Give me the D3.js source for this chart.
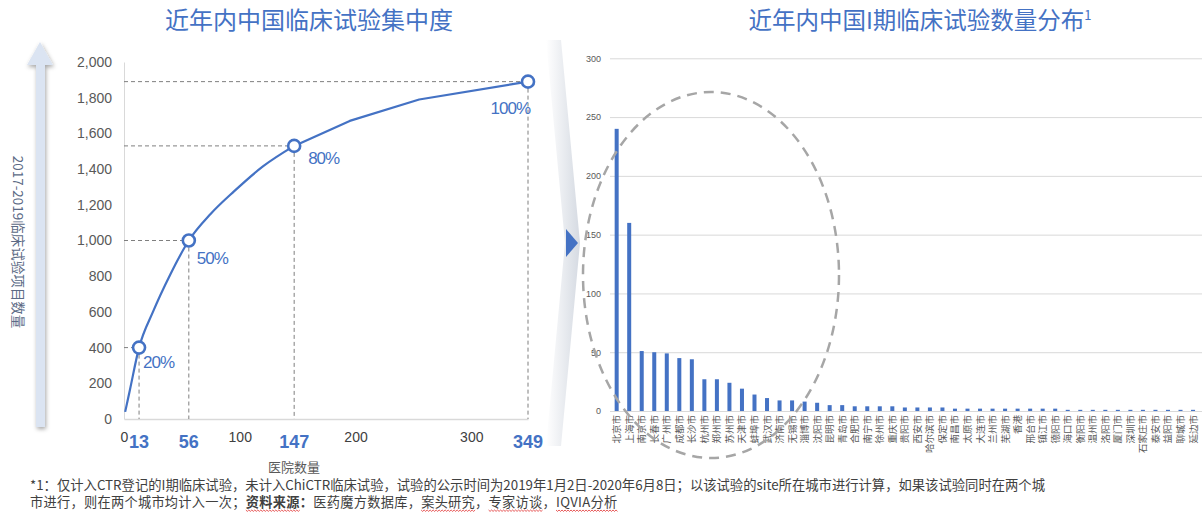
<!DOCTYPE html>
<html>
<head>
<meta charset="utf-8">
<script src="https://cdn.jsdelivr.net/npm/d3@7"></script>
<style>
  body { margin: 0; background: #fff; }
  svg { display: block; }
  text { font-family: "Liberation Sans", Arial, sans-serif; }
  .cjk { font-family: "Noto Sans CJK SC", sans-serif; }
</style>
</head>
<body>
<div id="chart"></div>
<script>
// ---- data: cumulative curve (left) ----
var hospitalCount = [1, 5, 13, 25, 40, 56, 75, 95, 120, 147, 195, 255, 349];
var trialCount    = [40, 160, 400, 600, 810, 1000, 1150, 1275, 1415, 1530, 1670, 1790, 1890];

var keyHospitals = [13, 56, 147, 349];
var keyTrials    = [400, 1000, 1530, 1890];
var keyShares    = ["20%", "50%", "80%", "100%"];

var leftYTicks = [0, 200, 400, 600, 800, 1000, 1200, 1400, 1600, 1800, 2000];
var leftXTicks = [0, 100, 200, 300];

// ---- data: phase I trials by city (right) ----
var cities = ["北京市", "上海市", "南京市", "长春市", "广州市", "成都市", "长沙市", "杭州市", "郑州市", "苏州市",
              "天津市", "蚌埠市", "武汉市", "济南市", "无锡市", "淄博市", "沈阳市", "昆明市", "青岛市", "合肥市",
              "南宁市", "徐州市", "重庆市", "贵阳市", "西安市", "哈尔滨市", "保定市", "南昌市", "太原市", "大连市",
              "兰州市", "芜湖市", "香港", "邢台市", "镇江市", "德阳市", "海口市", "衡阳市", "温州市", "洛阳市",
              "厦门市", "深圳市", "石家庄市", "泰安市", "益阳市", "聊城市", "延边市"];
var cityTrials = [240, 160, 51, 50, 49, 45, 44, 27, 27, 24,
                  19, 14, 11, 9, 9, 8, 7, 5, 5, 4,
                  4, 4, 4, 3, 3, 3, 3, 2, 2, 2,
                  2, 2, 2, 2, 2, 2, 1, 1, 1, 1,
                  1, 1, 1, 1, 1, 1, 1];
var rightYTicks = [0, 50, 100, 150, 200, 250, 300];

var blue = "#4472c4";

var svg = d3.select("#chart").append("svg")
    .attr("width", 1202)
    .attr("height", 512);

var defs = svg.append("defs");
var shadow = defs.append("filter").attr("id", "shadow")
    .attr("x", "-50%").attr("y", "-10%").attr("width", "200%").attr("height", "120%");
shadow.append("feDropShadow").attr("dx", 1).attr("dy", 2).attr("stdDeviation", 2)
    .attr("flood-color", "#000").attr("flood-opacity", 0.35);

var chev = defs.append("linearGradient").attr("id", "chev").attr("x1", 0).attr("x2", 1);
chev.append("stop").attr("offset", 0).attr("stop-color", "#ffffff");
chev.append("stop").attr("offset", 1).attr("stop-color", "#d5dae2");

/* ===================== left chart ===================== */

svg.append("text").attr("class", "cjk")
    .attr("x", 309).attr("y", 29)
    .attr("text-anchor", "middle")
    .style("font-size", "24px").style("fill", blue)
    .text("近年内中国临床试验集中度");

// big arrow along the y axis
svg.append("path")
    .attr("d", "M36,427 L36,65 L27,65 L40,42 L53,65 L45,65 L45,427 Z")
    .attr("fill", "#dbe4f2")
    .attr("filter", "url(#shadow)");

svg.append("text").attr("class", "cjk")
    .attr("transform", "translate(13,242) rotate(90)")
    .attr("text-anchor", "middle")
    .style("font-size", "13.5px").style("fill", "#5b6a85")
    .text("2017-2019临床试验项目数量");

var x = d3.scaleLinear().domain([0, 349]).range([124, 528]);
var y = d3.scaleLinear().domain([0, 2000]).range([419, 62]);

var yAxis = d3.axisLeft(y)
    .tickValues(leftYTicks)
    .tickSize(0)
    .tickPadding(12)
    .tickFormat(d3.format(","));

var gy = svg.append("g").attr("transform", "translate(124,0)").call(yAxis);
gy.select(".domain").attr("stroke", "#d9d9d9");
gy.selectAll("text").style("font-size", "14px").style("fill", "#595959")
    .style("font-family", "Liberation Sans, Arial, sans-serif");

var xAxis = d3.axisBottom(x)
    .tickValues(leftXTicks)
    .tickSize(0)
    .tickPadding(13);

var gx = svg.append("g").attr("transform", "translate(0,419)").call(xAxis);
gx.select(".domain").attr("stroke", "#d9d9d9").attr("stroke-width", 1.5);
gx.selectAll("text").style("font-size", "14px").style("fill", "#404040")
    .style("font-family", "Liberation Sans, Arial, sans-serif");

// highlighted hospital counts under the axis
svg.selectAll(".keyx")
    .data(keyHospitals)
    .enter().append("text")
    .attr("class", "keyx")
    .attr("x", function (d) { return x(d); })
    .attr("y", 448)
    .attr("text-anchor", "middle")
    .style("font-size", "18px").style("font-weight", "bold").style("fill", blue)
    .text(function (d) { return d; });

svg.append("text").attr("class", "cjk")
    .attr("x", 294).attr("y", 472)
    .attr("text-anchor", "middle")
    .style("font-size", "13px").style("fill", "#595959")
    .text("医院数量");

// dashed guides
var guides = svg.append("g")
    .attr("stroke", "#7f7f7f").attr("stroke-width", 1).attr("stroke-dasharray", "4,3");

keyHospitals.forEach(function (h, i) {
    guides.append("line")
        .attr("x1", x(0)).attr("x2", x(h))
        .attr("y1", y(keyTrials[i])).attr("y2", y(keyTrials[i]));
    guides.append("line")
        .attr("x1", x(h)).attr("x2", x(h))
        .attr("y1", y(keyTrials[i])).attr("y2", y(0));
});

var curve = hospitalCount.map(function (h, i) { return [h, trialCount[i]]; });
var split = hospitalCount.indexOf(147);

var smooth = d3.line()
    .x(function (d) { return x(d[0]); })
    .y(function (d) { return y(d[1]); })
    .curve(d3.curveMonotoneX);
var straight = d3.line()
    .x(function (d) { return x(d[0]); })
    .y(function (d) { return y(d[1]); });

[[smooth, curve.slice(0, split + 1)], [straight, curve.slice(split)]].forEach(function (p) {
    svg.append("path")
        .datum(p[1])
        .attr("fill", "none")
        .attr("stroke", blue)
        .attr("stroke-width", 2.2)
        .attr("stroke-linejoin", "round")
        .attr("d", p[0]);
});

svg.selectAll(".marker")
    .data(keyHospitals)
    .enter().append("circle")
    .attr("class", "marker")
    .attr("cx", function (d) { return x(d); })
    .attr("cy", function (d, i) { return y(keyTrials[i]); })
    .attr("r", 6)
    .attr("fill", "#fff")
    .attr("stroke", blue)
    .attr("stroke-width", 2.6);

var labelOffsets = [[4, 20, "start"], [8, 23, "start"], [14, 18, "start"], [2, 32, "end"]];

svg.selectAll(".share")
    .data(keyShares)
    .enter().append("text")
    .attr("class", "share")
    .attr("x", function (d, i) { return x(keyHospitals[i]) + labelOffsets[i][0]; })
    .attr("y", function (d, i) { return y(keyTrials[i]) + labelOffsets[i][1]; })
    .attr("text-anchor", function (d, i) { return labelOffsets[i][2]; })
    .style("font-size", "17px").style("fill", blue).style("letter-spacing", "-1px")
    .text(function (d) { return d; });

/* ===================== connector ===================== */

svg.append("path")
    .attr("d", "M546,40 L561,40 L580,243 L561,446 L546,446 L565,243 Z")
    .attr("fill", "url(#chev)");
svg.append("path")
    .attr("d", "M566,229 L578,243 L566,257 Z")
    .attr("fill", blue);

/* ===================== right chart ===================== */

svg.append("text").attr("class", "cjk")
    .attr("x", 920).attr("y", 29)
    .attr("text-anchor", "middle")
    .style("font-size", "23.5px").style("fill", blue)
    .text("近年内中国I期临床试验数量分布")
  .append("tspan")
    .attr("dy", -9)
    .style("font-size", "13px")
    .text("1");

var xb = d3.scaleBand()
    .domain(cities)
    .range([610.4, 1199.3])
    .paddingInner(0.68)
    .paddingOuter(0.34);

var yb = d3.scaleLinear().domain([0, 300]).range([411, 58.3]);

var grid = d3.axisLeft(yb)
    .tickValues(rightYTicks)
    .tickSize(-(1202 - 610))
    .tickPadding(9);

var gg = svg.append("g").attr("transform", "translate(610,0)").call(grid);
gg.select(".domain").remove();
gg.selectAll("line").attr("stroke", "#d9d9d9");
gg.selectAll("text").style("font-size", "9px").style("fill", "#595959")
    .style("font-family", "Liberation Sans, Arial, sans-serif");

svg.selectAll(".bar")
    .data(cities)
    .enter().append("rect")
    .attr("class", "bar")
    .attr("x", function (d) { return xb(d); })
    .attr("width", xb.bandwidth())
    .attr("y", function (d, i) { return yb(cityTrials[i]); })
    .attr("height", function (d, i) { return yb(0) - yb(cityTrials[i]); })
    .attr("fill", blue);

svg.selectAll(".city")
    .data(cities)
    .enter().append("text")
    .attr("class", "city cjk")
    .attr("transform", function (d) {
        return "translate(" + (xb(d) + xb.bandwidth() / 2 + 3.5) + ",415) rotate(-90)";
    })
    .attr("text-anchor", "end")
    .style("font-size", "9.5px").style("fill", "#595959")
    .text(function (d) { return d; });

// dashed ellipse around the leading cities
svg.append("ellipse")
    .attr("cx", 711).attr("cy", 275)
    .attr("rx", 128).attr("ry", 183)
    .attr("fill", "none")
    .attr("stroke", "#a6a6a6")
    .attr("stroke-width", 2.5)
    .attr("stroke-dasharray", "10,7");

/* ===================== footnote ===================== */

var note1 = svg.append("text").attr("class", "cjk")
    .attr("x", 30).attr("y", 490)
    .attr("textLength", 1015).attr("lengthAdjust", "spacingAndGlyphs")
    .style("font-size", "13.2px").style("fill", "#404040")
    .text("*1：仅计入CTR登记的I期临床试验，未计入ChiCTR临床试验，试验的公示时间为2019年1月2日-2020年6月8日；以该试验的site所在城市进行计算，如果该试验同时在两个城");

var note2 = svg.append("text").attr("class", "cjk")
    .attr("x", 30).attr("y", 507)
    .style("font-size", "13.2px").style("fill", "#404040")
    .style("letter-spacing", "0.3px");
note2.append("tspan").text("市进行，则在两个城市均计入一次；");
note2.append("tspan").style("font-weight", "bold").text("资料来源：");
note2.append("tspan").text("医药魔方数据库，案头研究，专家访谈，IQVIA分析");

// spell-check style squiggles under some words
function squiggle(textNode, word, baseY) {
    var node = textNode.node();
    var full = node.textContent;
    var start = full.indexOf(word);
    if (start < 0) return;
    var x0 = node.getStartPositionOfChar(start).x;
    var x1 = node.getEndPositionOfChar(start + word.length - 1).x;
    var d = "M" + x0 + "," + baseY;
    for (var px = x0, k = 0; px < x1; px += 1.5, k++) {
        d += " L" + (px + 1.5) + "," + (baseY + (k % 2 ? 0 : 1.4));
    }
    svg.append("path").attr("d", d).attr("fill", "none")
        .attr("stroke", "#e03030").attr("stroke-width", 0.8);
}

["资料来源", "案头研究", "专家访谈", "IQVIA分析"].forEach(function (w) { squiggle(note2, w, 510); });
</script>
</body>
</html>
